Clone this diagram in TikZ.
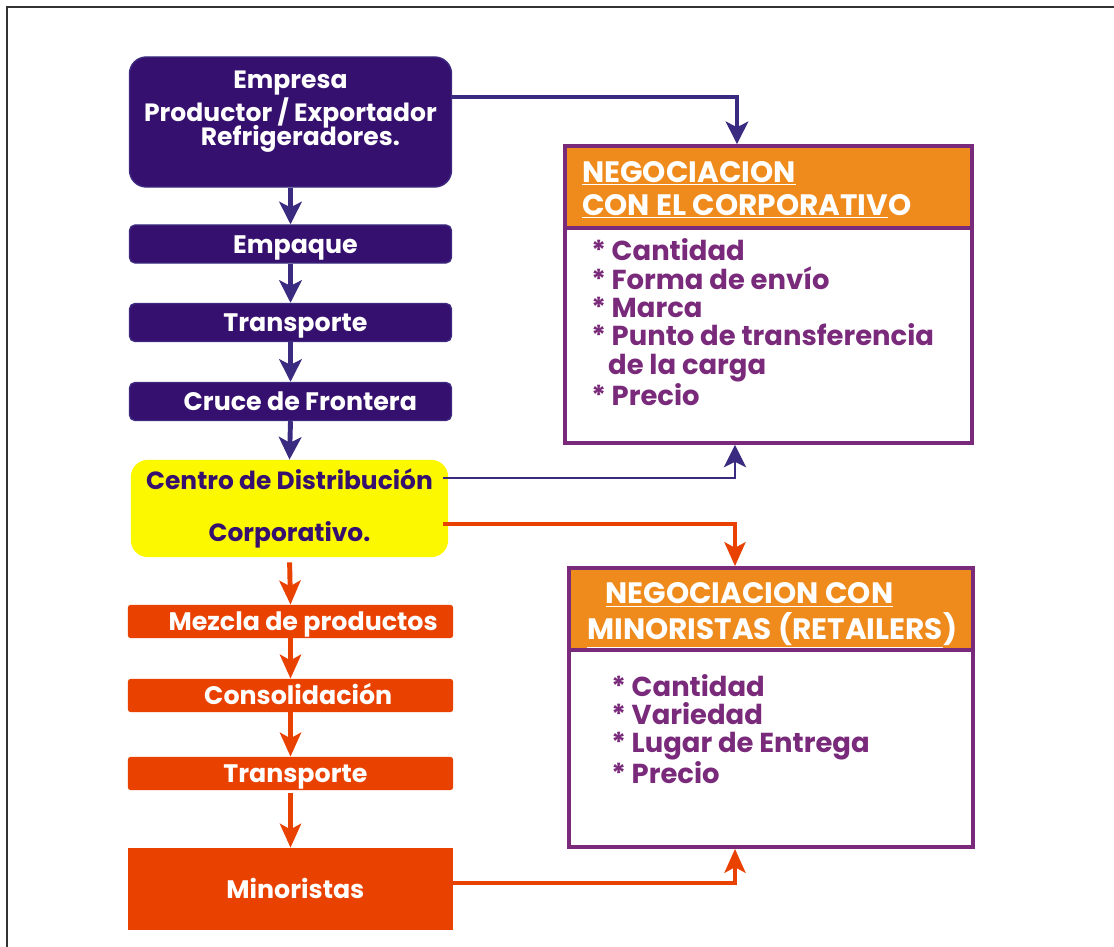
\documentclass[tikz,border=0pt]{standalone}
\usepackage{fontspec}
\setmainfont{Poppins}
\usetikzlibrary{arrows.meta, positioning, calc}
\definecolor{moradoosc}{RGB}{53,16,110}
\definecolor{moradoborde}{RGB}{62,42,128}
\definecolor{moradoflecha}{RGB}{58,42,128}
\definecolor{amarillocd}{RGB}{252,248,0}
\definecolor{naranjarojo}{RGB}{233,65,0}
\definecolor{naranjacab}{RGB}{239,138,28}
\definecolor{moradocaja}{RGB}{122,42,122}

\begin{document}
\begin{tikzpicture}[x=0.025cm, y=-0.025cm,
        pasomor/.style={rectangle, rounded corners=4pt, fill=moradoosc, draw=moradoborde, line width=1pt,
                        minimum width=8.05cm, minimum height=0.95cm, inner sep=0pt, text=white,
                        text height=12.8pt, text depth=0pt,
                        font=\fontsize{18}{20}\selectfont\bfseries},
        pasonar/.style={rectangle, rounded corners=2pt, fill=naranjarojo, minimum width=8.13cm,
                        minimum height=0.83cm, inner sep=0pt, text=white,
                        text height=12.8pt, text depth=0pt,
                        font=\fontsize{18}{20}\selectfont\bfseries},
        negbox/.style={rectangle, draw=moradocaja, line width=2.5pt, fill=white, inner sep=0pt},
        cabecera/.style={rectangle, draw=moradocaja, line width=2.5pt, fill=naranjacab,
                        minimum height=2.05cm, inner sep=0pt},
        cabtxt/.style={anchor=west, align=left, inner sep=0pt, text=white,
                        font=\fontsize{21}{23.5}\selectfont\bfseries},
        lista/.style={anchor=west, align=left, inner sep=0pt, text=moradocaja,
                        font=\fontsize{19.5}{20.2}\selectfont\bfseries},
        flechamor/.style={draw=moradoflecha, line width=3.5pt, -{Stealth[length=16pt, width=16pt, inset=4pt]}},
        flechanar/.style={draw=naranjarojo, line width=3.5pt, -{Stealth[length=17pt, width=15pt, inset=4pt]}}
    ]
        \useasboundingbox (0,0) rectangle (1114,947);
        \draw[line width=1.2pt, black!80] (7,947) -- (7,7) -- (1114,7);

        % columna izquierda
        \node[pasomor, rounded corners=12pt, minimum height=3.25cm] (empresa) at (290.5,122) {};
        \node[align=center, inner sep=0pt, text=white, font=\fontsize{17.8}{23.5}\selectfont\bfseries]
            (empresatxt) at (290.5,112) {Empresa\\Productor / Exportador\\[-6.5pt]\hspace*{14pt}Refrigeradores.};
        \node[pasomor] (empaque) at (290.5,244) {\hspace*{7pt}Empaque};
        \node[pasomor] (transp1) at (290.5,322.5) {\hspace*{7pt}Transporte};
        \node[pasomor] (frontera) at (290.5,401.5) {\hspace*{14pt}Cruce de Frontera};
        \node[rectangle, rounded corners=12pt, fill=amarillocd, minimum width=7.93cm, minimum height=2.43cm,
              align=center, text=moradoosc, font=\fontsize{17.7}{37}\selectfont\bfseries]
            (centro) at (289.5,508.5) {Centro de Distribución\\Corporativo.};
        \node[pasonar] (mezcla) at (290.5,621.5) {\hspace*{18pt}Mezcla de productos};
        \node[pasonar] (consol) at (290.5,695.5) {\hspace*{11pt}Consolidación};
        \node[pasonar] (transp2) at (290.5,773.5) {\hspace*{7pt}Transporte};
        \node[pasonar, rounded corners=0pt, minimum height=2.05cm] (minoristas) at (290.5,889) {\hspace*{7pt}Minoristas};

        % cajas de negociacion
        \node[negbox, minimum width=10.18cm, minimum height=7.43cm] (negcorp) at (768.5,294.5) {};
        \node[cabecera, minimum width=10.18cm, anchor=north] (cabcorp) at (negcorp.north) {};
        \node[cabtxt] (cabcorptxt) at (582,190) {\underline{NEGOCIACION}\\\underline{CON EL CORPORATIV}O};
        \node[lista] (listacorp) at (591,322) {* Cantidad\\* Forma de envío\\* Marca\\* Punto de transferencia\\\hspace*{12pt}de la carga\\* Precio};

        \node[negbox, minimum width=10.1cm, minimum height=6.98cm] (negmin) at (771,707.5) {};
        \node[cabecera, minimum width=10.1cm, anchor=north] (cabmin) at (negmin.north) {};
        \node[cabtxt, font=\fontsize{21}{25}\selectfont\bfseries] (cabmintxt) at (587,615.5)
            {\hspace*{13pt}\underline{NEGOCIACION CON}\\\underline{MINORISTAS (RETAILERS})};
        \node[lista] (listamin) at (611,729) {* Cantidad\\* Variedad\\* Lugar de Entrega\\* Precio};

        % flujo vertical
        \draw[flechamor] (empresa.south) -- (empaque.north);
        \draw[flechamor] (empaque.south) -- (transp1.north);
        \draw[flechamor] (transp1.south) -- (frontera.north);
        \draw[flechamor] (frontera.south) -- (centro.north);
        \draw[flechanar, shorten <=3.5pt] (centro.south) -- (mezcla.north);
        \draw[flechanar] (mezcla.south) -- (consol.north);
        \draw[flechanar] (consol.south) -- (transp2.north);
        \draw[flechanar, shorten <=2pt] (transp2.south) -- (minoristas.north);

        % conexiones hacia las negociaciones
        \draw[flechamor, line width=2.5pt] ($(empresa.east)+(0,-25)$) -| ($(negcorp.north)+(-31.5,0)$);
        \draw[flechamor, line width=1.5pt] ($(centro.east)+(-5,-30.5)$) -| ($(negcorp.south)+(-33.5,0)$);
        \draw[flechanar, line width=2.5pt] ($(centro.east)+(-5,15.5)$) -| ($(negmin.north)+(-36,0)$);
        \draw[flechanar, line width=2.5pt] ($(minoristas.east)+(0,-6)$) -| ($(negmin.south)+(-36,0)$);
    \end{tikzpicture}
\end{document}
